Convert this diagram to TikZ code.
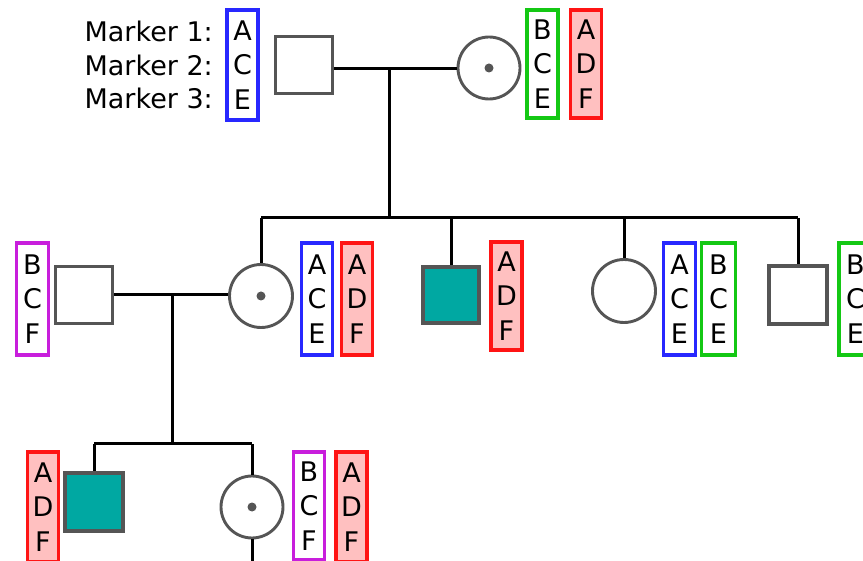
\documentclass[tikz,border=0pt]{standalone}
\usepackage{fontspec}
\setmainfont{DejaVu Sans}
\definecolor{symgray}{RGB}{85,85,85}
\definecolor{teal2}{RGB}{0,168,162}
\definecolor{mblue}{RGB}{40,40,255}
\definecolor{mgreen}{RGB}{20,200,20}
\definecolor{mred}{RGB}{255,20,20}
\definecolor{mpink}{RGB}{255,192,192}
\definecolor{mpurple}{RGB}{200,30,220}
\begin{document}
\begin{tikzpicture}[x=1pt,y=-1pt,
  male/.style={draw=symgray,line width=3.2pt,fill=white,minimum size=57pt,inner sep=0pt},
  affmale/.style={male,fill=teal2},
  female/.style={circle,draw=symgray,line width=2.9pt,fill=white,minimum size=62pt,inner sep=0pt},
  carrier/.style={female,path picture={\fill[symgray] (path picture bounding box.center) circle (4.5pt);}},
  mk/.style={draw,line width=3.1pt,inner sep=0pt,minimum width=31pt,minimum height=112pt,align=center,font=\fontsize{27}{34.5}\selectfont},
  mkb/.style={mk,draw=mblue},
  mkg/.style={mk,draw=mgreen},
  mkp/.style={mk,draw=mpurple},
  mkr/.style={mk,draw=mred,fill=mpink},
  lbl/.style={anchor=base east,inner sep=0pt,font=\fontsize{27}{30}\selectfont},
  conn/.style={line width=3pt,black}]
\useasboundingbox (0,0) rectangle (863,561);

% labels
\node[lbl] (l1) at (213,42) {Marker 1:};
\node[lbl] (l2) at (213,75.5) {Marker 2:};
\node[lbl] (l3) at (213,109) {Marker 3:};

% generation 1
\node[male] (f1) at (304,65) {};
\node[carrier] (m1) at (489,68) {};
\node[mkb,minimum height=110pt] (b1) at (242.5,65) {A\\C\\E};
\node[mkg,minimum height=108pt] (b2) at (542.5,64) {B\\C\\E};
\node[mkr,minimum height=108pt] (b3) at (586,64) {A\\D\\F};

\coordinate (mid1) at (389,69);
\coordinate (s1) at (389,218);
\draw[conn] (f1.east |- mid1) -- (m1.west |- mid1);
\draw[conn] (mid1) -- (s1);

% generation 2
\node[male] (p2) at (84,295) {};
\node[carrier,minimum size=63pt] (c1) at (261,296) {};
\node[affmale,minimum size=56pt] (c2) at (451,295) {};
\node[female,minimum size=63pt] (c3) at (624,291) {};
\node[male,minimum size=58pt] (c4) at (798,295) {};

\node[mkp,minimum width=32pt] (b4) at (32.5,299) {B\\C\\F};
\node[mkb] (b5) at (317,299) {A\\C\\E};
\node[mkr] (b6) at (357,299) {A\\D\\F};
\node[mkr,minimum height=108pt] (b7) at (506.5,296) {A\\D\\F};
\node[mkb,minimum width=32pt] (b8) at (679.5,299) {A\\C\\E};
\node[mkg,minimum width=34pt] (b9) at (718.5,299) {B\\C\\E};
\node[mkg,minimum width=33pt] (b10) at (855.5,299) {B\\C\\E};

\draw[conn] (c1.north |- s1) -- (c4.north |- s1);
\draw[conn] (c1.north |- s1) -- (c1.north);
\draw[conn] (c2.north |- s1) -- (c2.north);
\draw[conn] (c3.north |- s1) -- (c3.north);
\draw[conn] (c4.north |- s1) -- (c4.north);

\coordinate (mid2) at (172,295);
\coordinate (s2) at (172,444);
\draw[conn] (p2.east |- mid2) -- (c1.west |- mid2);
\draw[conn] (mid2) -- (s2);

% generation 3
\node[affmale,minimum size=58pt] (g1) at (94,502) {};
\node[carrier] (g2) at (252,507) {};
\node[mkr,minimum height=110pt] (b11) at (43,507) {A\\D\\F};
\node[mkp,minimum height=108pt] (b12) at (309,506) {B\\C\\F};
\node[mkr,minimum height=110pt] (b13) at (351.5,507) {A\\D\\F};

\coordinate (end3) at (252,561);
\draw[conn] (g1.north |- s2) -- (g2.north |- s2);
\draw[conn] (g1.north |- s2) -- (g1.north);
\draw[conn] (g2.north |- s2) -- (g2.north);
\draw[conn] (g2.south) -- (end3);
\end{tikzpicture}
\end{document}
